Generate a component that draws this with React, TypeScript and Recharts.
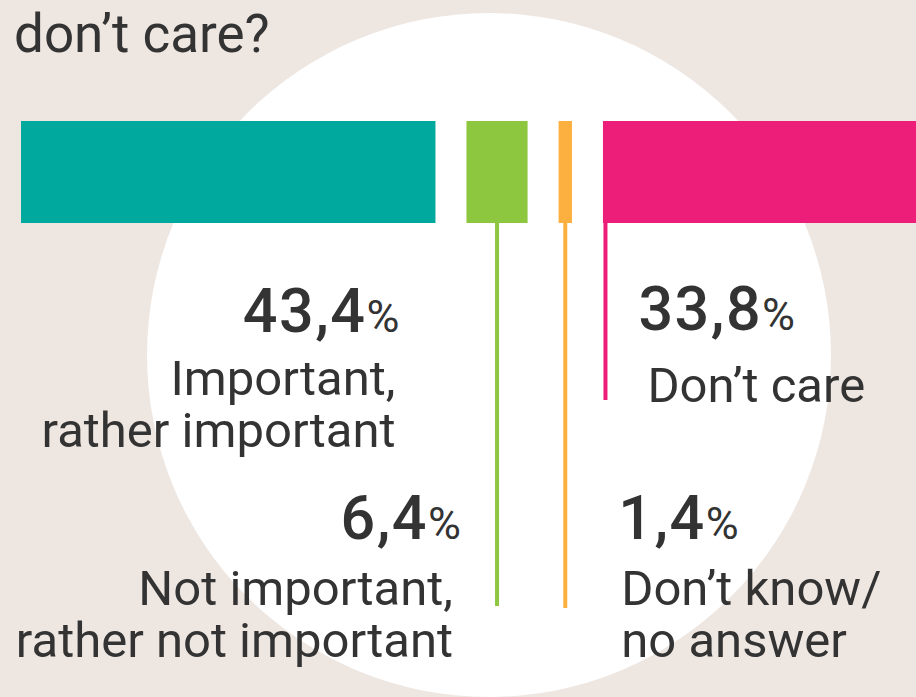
import React from 'react';
import { BarChart, Bar, XAxis, YAxis } from 'recharts';

const W = 916;
const H = 697;

const title = 'don’t care?';
const seriesKeys = ['important', 'notImportant', 'dontKnow', 'dontCare'];
const seriesValues = [43.4, 6.4, 1.4, 33.8];
const seriesLabels = [
  ['Important,', 'rather important'],
  ['Not important,', 'rather not important'],
  ['Don’t know/', 'no answer'],
  ['Don’t care'],
];
const seriesColors = ['#00A99D', '#8DC63F', '#FBB040', '#ED1E79'];

const total = seriesValues.reduce((a, b) => a + b, 0);
const row: Record<string, any> = { name: 'answers' };
seriesKeys.forEach((k, i) => (row[k] = seriesValues[i]));
const data = [row];

const TEXT = '#333333';
const BG = '#EEE6E1';
const GAP = 31; // white space between the segments
const PX_PER_PCT = 9.55;
const FONT = 'Roboto, "Noto Sans", sans-serif';

// where each label block sits relative to its anchor (bar edge or leader line)
type Place = {
  ref: 'right' | 'center' | 'left';
  leaderTo?: number;
  anchor: 'start' | 'end';
  numDx: number;
  textDx: number;
  numY: number;
  lineY: number[];
};
const places: Place[] = [
  { ref: 'right', anchor: 'end', numDx: -36, textDx: -40, numY: 332, lineY: [395, 447] },
  { ref: 'center', leaderTo: 606, anchor: 'end', numDx: -36, textDx: -44, numY: 539, lineY: [605, 657] },
  { ref: 'center', leaderTo: 608, anchor: 'start', numDx: 53, textDx: 56, numY: 539, lineY: [605, 657] },
  { ref: 'left', leaderTo: 400, anchor: 'start', numDx: 33, textDx: 42, numY: 330, lineY: [402] },
];

const fmt = (v: number) => v.toFixed(1).replace('.', ',');

function makeShape(i: number) {
  return (props: any) => {
    const { x, y, width, height, fill } = props;
    const sx = x + i * GAP;
    const p = places[i];
    const refX = p.ref === 'right' ? sx + width : p.ref === 'center' ? sx + width / 2 : sx + 2.5;
    return (
      <g>
        <rect x={sx} y={y} width={width} height={height} fill={fill} />
        {p.leaderTo != null && (
          <line x1={refX} x2={refX} y1={y + height} y2={p.leaderTo} stroke={fill} strokeWidth={4} />
        )}
        <text x={refX + p.numDx} y={p.numY} textAnchor={p.anchor} fill={TEXT} fontFamily={FONT}>
          <tspan fontSize={61} fontWeight={500} letterSpacing={1.5}>{fmt(seriesValues[i])}</tspan>
          <tspan fontSize={45}>%</tspan>
        </text>
        {seriesLabels[i].map((t, j) => (
          <text
            key={j}
            x={refX + p.textDx}
            y={p.lineY[j]}
            textAnchor={p.anchor}
            fill={TEXT}
            fontFamily={FONT}
            fontSize={49}
          >
            {t}
          </text>
        ))}
      </g>
    );
  };
}

export default function App() {
  return (
    <div style={{ position: 'absolute', left: 0, top: 0, width: W, height: H, background: BG, overflow: 'hidden' }}>
      <svg width={W} height={H} style={{ position: 'absolute', left: 0, top: 0 }}>
        <circle cx={489} cy={355} r={342} fill="#FFFFFF" />
        <text x={14} y={52} fontFamily={FONT} fontSize={53} fill={TEXT}>
          {title}
        </text>
      </svg>
      <div style={{ position: 'absolute', left: 0, top: 0 }}>
        <BarChart
          width={W}
          height={H}
          data={data}
          layout="vertical"
          barCategoryGap={0}
          margin={{ top: 121, bottom: H - 223, left: 21, right: W - 21 - total * PX_PER_PCT }}
        >
          <XAxis type="number" domain={[0, total]} hide />
          <YAxis type="category" dataKey="name" hide />
          {seriesKeys.map((k, i) => (
            <Bar
              key={k}
              dataKey={k}
              stackId="a"
              fill={seriesColors[i]}
              shape={makeShape(i)}
              isAnimationActive={false}
            />
          ))}
        </BarChart>
      </div>
    </div>
  );
}
